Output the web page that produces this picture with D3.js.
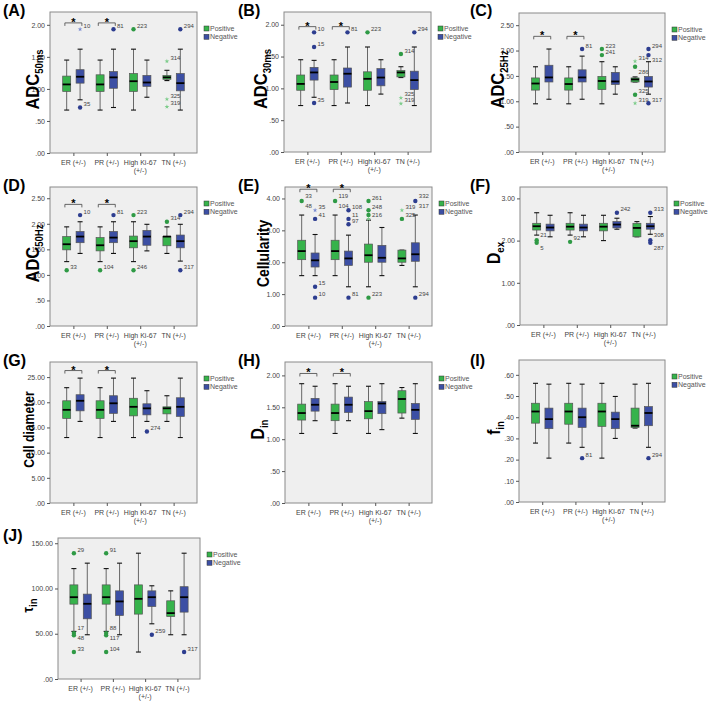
<!DOCTYPE html>
<html>
<head>
<meta charset="utf-8">
<script src="https://cdn.jsdelivr.net/npm/d3@7"></script>
<style>
  body { margin: 0; background: #fff; }
  svg { font-family: Arial, "Liberation Sans", sans-serif; }
</style>
</head>
<body>
<div id="chart"></div>
<script>
// x categories ("|" = line break)
var groups = ["ER (+/-)", "PR (+/-)", "High Ki-67|(+/-)", "TN (+/-)"];
var seriesNames = ["Positive", "Negative"];

// box stats per group: [low whisker, Q1, median, Q3, high whisker]
// outliers: [group, series (0 pos / 1 neg), value, label ("above|below"), marker]
var adc50msPos = [[0.67, 0.96, 1.07, 1.20, 1.45], [0.67, 0.96, 1.07, 1.22, 1.45], [0.67, 0.96, 1.12, 1.24, 1.62], [1.13, 1.15, 1.18, 1.21, 1.29]];
var adc50msNeg = [[0.83, 1.09, 1.19, 1.30, 1.62], [0.71, 1.01, 1.18, 1.27, 1.62], [0.87, 1.04, 1.10, 1.21, 1.45], [0.67, 0.97, 1.09, 1.24, 1.62]];
var adc50msOut = [[0, 1, 1.93, "10", "*"], [0, 1, 0.71, "35", "o"], [1, 1, 1.93, "81", "o"], [2, 0, 1.93, "223", "o"],
  [3, 0, 1.43, "314", "*"], [3, 0, 0.84, "325", "*"], [3, 0, 0.72, "319", "*"], [3, 1, 1.93, "294", "o"]];
var adc50msTicks = [0, 0.5, 1, 1.5, 2];

var adc30msPos = [[0.73, 0.97, 1.07, 1.21, 1.45], [0.73, 0.98, 1.10, 1.21, 1.45], [0.73, 0.97, 1.15, 1.26, 1.65], [1.17, 1.18, 1.25, 1.28, 1.34]];
var adc30msNeg = [[0.86, 1.13, 1.25, 1.33, 1.44], [0.77, 1.02, 1.23, 1.32, 1.65], [0.91, 1.04, 1.17, 1.31, 1.45], [0.73, 0.98, 1.13, 1.27, 1.65]];
var adc30msOut = [[0, 1, 1.88, "10", "o"], [0, 1, 1.65, "15", "o"], [0, 1, 0.77, "35", "o"], [1, 1, 1.88, "81", "o"], [2, 0, 1.88, "223", "o"],
  [3, 0, 1.54, "314", "o"], [3, 0, 0.85, "325", "*"], [3, 0, 0.76, "319", "*"], [3, 1, 1.88, "294", "o"]];
var adc30msTicks = [0, 0.5, 1, 1.5, 2];

var adc25hzPos = [[0.95, 1.22, 1.35, 1.46, 1.68], [0.95, 1.22, 1.34, 1.46, 1.68], [0.95, 1.23, 1.40, 1.49, 1.78], [1.38, 1.38, 1.43, 1.46, 1.48]];
var adc25hzNeg = [[1.04, 1.38, 1.47, 1.71, 2.03], [1.04, 1.38, 1.47, 1.62, 1.89], [1.14, 1.33, 1.39, 1.57, 1.68], [1.14, 1.28, 1.39, 1.49, 1.78]];
var adc25hzOut = [[1, 1, 2.03, "81", "o"], [2, 0, 2.03, "223", "o"], [2, 0, 1.91, "241", "o"], [3, 0, 1.79, "314", "*"], [3, 0, 1.68, "|286", "o"],
  [3, 0, 1.13, "325", "o"], [3, 0, 0.96, "319", "*"], [3, 1, 2.03, "294", "o"], [3, 1, 1.91, "|312", "o"], [3, 1, 0.96, "317", "o"]];
var adc25hzTicks = [0, 0.5, 1, 1.5, 2, 2.5];

var adc50hzPos = [[1.26, 1.49, 1.60, 1.75, 1.94], [1.26, 1.47, 1.58, 1.73, 1.94], [1.26, 1.53, 1.66, 1.76, 2.04], [1.42, 1.57, 1.75, 1.75, 1.94]];
var adc50hzNeg = [[1.42, 1.63, 1.75, 1.85, 2.04], [1.42, 1.63, 1.73, 1.85, 2.04], [1.47, 1.58, 1.75, 1.87, 1.99], [1.27, 1.53, 1.66, 1.78, 1.99]];
var adc50hzOut = [[0, 0, 1.09, "33", "o"], [0, 1, 2.17, "10", "o"], [1, 0, 1.09, "104", "o"], [1, 1, 2.17, "81", "o"], [2, 0, 2.17, "223", "o"],
  [2, 0, 1.09, "246", "o"], [3, 0, 2.04, "314", "o"], [3, 1, 2.17, "294", "o"], [3, 1, 1.09, "317", "o"]];
var adc50hzTicks = [0, 0.5, 1, 1.5, 2, 2.5];

var cellularityPos = [[1.58, 2.08, 2.35, 2.69, 3.48], [1.58, 2.08, 2.35, 2.69, 3.48], [1.23, 2.00, 2.22, 2.57, 3.32], [1.90, 2.00, 2.12, 2.38, 2.38]];
var cellularityNeg = [[1.58, 1.85, 2.06, 2.29, 2.87], [1.23, 1.90, 2.12, 2.35, 2.85], [1.58, 2.00, 2.14, 2.53, 3.09], [1.23, 2.03, 2.25, 2.61, 3.48]];
var cellularityOut = [[0, 0, 3.92, "33|48", "o"], [0, 1, 3.63, "35", "*"], [0, 1, 3.36, "41", "o"], [0, 1, 1.23, "15", "o"], [0, 1, 0.89, "10", "o"],
  [1, 0, 3.92, "119|104", "o"], [1, 1, 3.63, "108", "o"], [1, 1, 3.36, "11", "o"], [1, 1, 3.19, "97", "o"], [1, 1, 0.89, "81", "o"],
  [2, 0, 3.92, "261", "o"], [2, 0, 3.63, "248", "o"], [2, 0, 3.48, "", "o"], [2, 0, 3.36, "216", "*"], [2, 0, 0.89, "223", "o"],
  [3, 0, 3.63, "319", "*"], [3, 0, 3.36, "325", "o"], [3, 1, 3.92, "332|317", "o"], [3, 1, 0.89, "294", "o"]];
var cellularityTicks = [0, 1, 2, 3, 4];

var dexPos = [[2.13, 2.25, 2.34, 2.41, 2.66], [2.13, 2.25, 2.33, 2.41, 2.66], [2.00, 2.23, 2.33, 2.41, 2.60], [2.09, 2.09, 2.30, 2.41, 2.45]];
var dexNeg = [[2.09, 2.23, 2.31, 2.39, 2.60], [2.09, 2.23, 2.31, 2.39, 2.60], [2.27, 2.30, 2.38, 2.45, 2.53], [2.15, 2.27, 2.34, 2.41, 2.57]];
var dexOut = [[0, 0, 2.01, "21|", "o"], [0, 0, 1.95, "|5", "o"], [1, 0, 1.97, "92", "o"], [2, 1, 2.66, "242", "o"],
  [3, 1, 2.66, "313", "o"], [3, 1, 2.01, "308|", "o"], [3, 1, 1.95, "|287", "o"]];
var dexTicks = [0, 1, 2, 3];

var diameterPos = [[13.0, 16.8, 18.5, 20.3, 22.9], [13.0, 16.8, 18.5, 20.3, 22.9], [13.0, 17.3, 19.1, 20.8, 24.8], [16.2, 17.7, 18.8, 19.1, 21.3]];
var diameterNeg = [[16.2, 18.3, 20.3, 21.5, 24.8], [16.2, 17.8, 19.8, 21.3, 24.8], [16.2, 17.5, 18.8, 19.7, 22.3], [13.0, 17.2, 19.1, 20.9, 24.8]];
var diameterOut = [[2, 1, 14.2, "274", "o"]];
var diameterTicks = [0, 5, 10, 15, 20, 25];

var dinPos = [[1.09, 1.30, 1.41, 1.55, 1.87], [1.09, 1.29, 1.41, 1.55, 1.87], [1.09, 1.32, 1.44, 1.59, 1.83], [1.33, 1.41, 1.63, 1.76, 1.81]];
var dinNeg = [[1.29, 1.44, 1.54, 1.64, 1.83], [1.29, 1.42, 1.54, 1.66, 1.83], [1.15, 1.40, 1.56, 1.59, 1.87], [1.09, 1.31, 1.46, 1.56, 1.87]];
var dinOut = [];
var dinTicks = [0, 0.5, 1, 1.5, 2];

var finPos = [[0.278, 0.372, 0.427, 0.466, 0.56], [0.278, 0.367, 0.427, 0.466, 0.56], [0.207, 0.357, 0.427, 0.466, 0.56], [0.349, 0.352, 0.36, 0.443, 0.556]];
var finNeg = [[0.207, 0.346, 0.391, 0.443, 0.556], [0.258, 0.352, 0.40, 0.443, 0.556], [0.30, 0.346, 0.391, 0.424, 0.498], [0.258, 0.36, 0.42, 0.45, 0.56]];
var finOut = [[1, 1, 0.207, "81", "o"], [3, 1, 0.207, "294", "o"]];
var finTicks = [0, 0.1, 0.2, 0.3, 0.4, 0.5, 0.6];

var tinPos = [[52.6, 82.7, 90.4, 104, 122], [52.6, 82.7, 90.4, 104, 122], [29.8, 71.7, 88.6, 104, 139], [48.9, 69.1, 72.8, 86.4, 97.4]];
var tinNeg = [[48.9, 66.5, 83.1, 93.8, 128], [48.9, 70.2, 85.7, 97.4, 128], [61, 80.1, 90.4, 97.4, 103], [48.9, 73.9, 90.4, 102, 139]];
var tinOut = [[0, 0, 139, "29", "o"], [0, 0, 50.7, "17|48", "o"], [0, 0, 48.4, "", "o"], [0, 0, 29.8, "33", "o"],
  [1, 0, 139, "91", "o"], [1, 0, 50.7, "88|117", "o"], [1, 0, 48.4, "", "o"], [1, 0, 29.8, "104", "o"],
  [2, 1, 48.9, "259", "o"], [3, 1, 29.8, "317", "o"]];
var tinTicks = [0, 50, 100, 150];

// page grid
var cellX = [0, 236, 472];
var cellY = [0, 175, 350, 525];

var panels = [
  { tag: "(A)", col: 0, row: 0, title: "ADC", sub: "50ms", fs: 19, tx: 39, pos: adc50msPos, neg: adc50msNeg, out: adc50msOut, ticks: adc50msTicks, max: 2.2, sig: 2.03, frame: [50, 12, 197, 153] },
  { tag: "(B)", col: 1, row: 0, title: "ADC", sub: "30ms", fs: 19, tx: 31, pos: adc30msPos, neg: adc30msNeg, out: adc30msOut, ticks: adc30msTicks, max: 2.2, sig: 1.97, frame: [48, 12, 195, 152] },
  { tag: "(C)", col: 2, row: 0, title: "ADC", sub: "25Hz", fs: 19, tx: 32, pos: adc25hzPos, neg: adc25hzNeg, out: adc25hzOut, ticks: adc25hzTicks, max: 2.74, sig: 2.28, frame: [47, 13, 193, 152] },
  { tag: "(D)", col: 0, row: 1, title: "ADC", sub: "50Hz", fs: 19, tx: 39, pos: adc50hzPos, neg: adc50hzNeg, out: adc50hzOut, ticks: adc50hzTicks, max: 2.72, sig: 2.38, frame: [50, 12, 197, 151] },
  { tag: "(E)", col: 1, row: 1, title: "Cellularity", sub: "", fs: 16, tx: 33, pos: cellularityPos, neg: cellularityNeg, out: cellularityOut, ticks: cellularityTicks, max: 4.36, sig: 4.29, frame: [49, 12, 196, 151] },
  { tag: "(F)", col: 2, row: 1, title: "D", sub: "ex", fs: 18, tx: 28, pos: dexPos, neg: dexNeg, out: dexOut, ticks: dexTicks, max: 3.27, sig: null, frame: [48, 12, 195, 150] },
  { tag: "(G)", col: 0, row: 2, title: "Cell diameter", sub: "", fs: 14, tx: 34, pos: diameterPos, neg: diameterNeg, out: diameterOut, ticks: diameterTicks, max: 28, sig: 26.3, frame: [50, 12, 197, 153] },
  { tag: "(H)", col: 1, row: 2, title: "D", sub: "in", fs: 18, tx: 28, pos: dinPos, neg: dinNeg, out: dinOut, ticks: dinTicks, max: 2.21, sig: 2.03, frame: [49, 12, 196, 153] },
  { tag: "(I)", col: 2, row: 2, title: "f", sub: "in", fs: 18, tx: 28, pos: finPos, neg: finNeg, out: finOut, ticks: finTicks, max: 0.67, sig: null, frame: [47, 10, 193, 152] },
  { tag: "(J)", col: 0, row: 3, title: "τ", sub: "in", fs: 14, tx: 33, pos: tinPos, neg: tinNeg, out: tinOut, ticks: tinTicks, max: 155.8, sig: null, frame: [58, 13, 200, 154] }
];

var boxFill = ["#36b34b", "#3c4fa4"];
var dotFill = ["#2f9a45", "#2d3d8f"];
var starFill = ["#7ccc8a", "#7a8bd0"];
var boxW = 8, off = 6.7, capW = 5;

function fmt(d) {
  var s = d.toFixed(2);
  return s.indexOf("0.") === 0 ? s.slice(1) : s;
}

var svg = d3.select("#chart")
  .append("svg")
  .attr("width", 708)
  .attr("height", 704);

panels.forEach(function(p) {
  var g = svg.append("g")
    .attr("transform", `translate(${cellX[p.col]}, ${cellY[p.row]})`);
  var f = p.frame;

  var x = d3.scalePoint()
    .domain(d3.range(groups.length))
    .range([f[0], f[2]])
    .padding(0.7);
  var y = d3.scaleLinear()
    .domain([0, p.max])
    .range([f[3], f[1]]);

  // plot area
  g.append("rect")
    .attr("x", f[0]).attr("y", f[1])
    .attr("width", f[2] - f[0]).attr("height", f[3] - f[1])
    .attr("fill", "#efefef")
    .attr("stroke", "#8a8a8a")
    .attr("stroke-width", 1);

  // axes
  var yAxis = g.append("g")
    .attr("transform", `translate(${f[0]}, 0)`)
    .call(d3.axisLeft(y).tickValues(p.ticks).tickSize(3).tickPadding(2).tickFormat(fmt));
  yAxis.select(".domain").remove();
  yAxis.selectAll("line").attr("stroke", "#555");
  yAxis.selectAll("text").attr("font-size", 7).attr("fill", "#444").attr("font-family", "Arial, Liberation Sans, sans-serif");

  var xAxis = g.append("g")
    .attr("transform", `translate(0, ${f[3]})`)
    .call(d3.axisBottom(x).tickSize(3).tickFormat(""));
  xAxis.select(".domain").remove();
  xAxis.selectAll("line").attr("stroke", "#555");

  groups.forEach(function(name, i) {
    var t = g.append("text")
      .attr("x", x(i))
      .attr("y", f[3] + 12)
      .attr("text-anchor", "middle")
      .attr("font-size", 7)
      .attr("fill", "#444");
    name.split("|").forEach(function(line, k) {
      t.append("tspan").attr("x", x(i)).attr("dy", k ? 7.5 : 0).text(line);
    });
  });

  // boxes
  [p.pos, p.neg].forEach(function(stats, s) {
    var bg = g.append("g");
    stats.forEach(function(d, i) {
      var cx = x(i) + (s ? off : -off);
      bg.append("line")
        .attr("x1", cx).attr("x2", cx)
        .attr("y1", y(d[0])).attr("y2", y(d[4]))
        .attr("stroke", "#444").attr("stroke-width", 0.8);
      [d[0], d[4]].forEach(function(v) {
        bg.append("line")
          .attr("x1", cx - capW / 2).attr("x2", cx + capW / 2)
          .attr("y1", y(v)).attr("y2", y(v))
          .attr("stroke", "#111").attr("stroke-width", 1.1);
      });
      bg.append("rect")
        .attr("x", cx - boxW / 2)
        .attr("y", y(d[3]))
        .attr("width", boxW)
        .attr("height", Math.max(1, y(d[1]) - y(d[3])))
        .attr("fill", boxFill[s])
        .attr("stroke", "#555")
        .attr("stroke-width", 0.7);
      bg.append("line")
        .attr("x1", cx - boxW / 2).attr("x2", cx + boxW / 2)
        .attr("y1", y(d[2])).attr("y2", y(d[2]))
        .attr("stroke", "#000").attr("stroke-width", 1.8);
    });
  });

  // outliers
  p.out.forEach(function(o) {
    var cx = x(o[0]) + (o[1] ? off : -off);
    var cy = y(o[2]);
    if (o[4] === "o") {
      g.append("circle")
        .attr("cx", cx).attr("cy", cy).attr("r", 2.2)
        .attr("fill", dotFill[o[1]]);
    } else {
      g.append("path")
        .attr("d", d3.symbol().type(d3.symbolStar).size(7)())
        .attr("transform", `translate(${cx}, ${cy})`)
        .attr("fill", starFill[o[1]]);
    }
    var labels = o[3] ? o[3].split("|") : [];
    labels.forEach(function(l, k) {
      if (!l) return;
      g.append("text")
        .attr("x", cx + 3.5)
        .attr("y", labels.length > 1 ? (k ? cy + 7 : cy - 3) : cy - 1.5)
        .attr("font-size", 6)
        .attr("fill", "#444")
        .text(l);
    });
  });

  // significance brackets (ER, PR)
  if (p.sig !== null) {
    [0, 1].forEach(function(i) {
      var yb = y(p.sig);
      g.append("path")
        .attr("d", `M${x(i) - 8.5},${yb + 3}V${yb}H${x(i) + 8.5}V${yb + 3}`)
        .attr("fill", "none")
        .attr("stroke", "#444")
        .attr("stroke-width", 0.8);
      g.append("text")
        .attr("x", x(i))
        .attr("y", yb + 3)
        .attr("text-anchor", "middle")
        .attr("font-size", 11)
        .attr("font-weight", "bold")
        .text("*");
    });
  }

  // legend
  var lx = f[2] + 7, ly = f[1] + 14;
  seriesNames.forEach(function(name, s) {
    g.append("rect")
      .attr("x", lx).attr("y", ly + s * 8.3)
      .attr("width", 5).attr("height", 5)
      .attr("fill", boxFill[s])
      .attr("stroke", "#333")
      .attr("stroke-width", 0.5);
    g.append("text")
      .attr("x", lx + 6)
      .attr("y", ly + s * 8.3 + 5)
      .attr("font-size", 7)
      .attr("fill", "#555")
      .text(name);
  });

  // y title (slightly condensed along its length, as in the source figure)
  var title = g.append("text")
    .attr("transform", `translate(${p.tx}, ${(f[1] + f[3]) / 2 - 3}) rotate(-90) scale(0.87, 1)`)
    .attr("text-anchor", "middle")
    .attr("font-size", p.fs)
    .attr("font-weight", "bold")
    .attr("fill", "#000");
  title.append("tspan").text(p.title);
  if (p.sub) {
    title.append("tspan").attr("font-size", 11).attr("dy", 4).text(p.sub);
  }

  // panel tag
  g.append("text")
    .attr("x", [3, 2, -2][p.col])
    .attr("y", 16)
    .attr("font-size", 16)
    .attr("font-weight", "bold")
    .text(p.tag);
});
</script>
</body>
</html>
